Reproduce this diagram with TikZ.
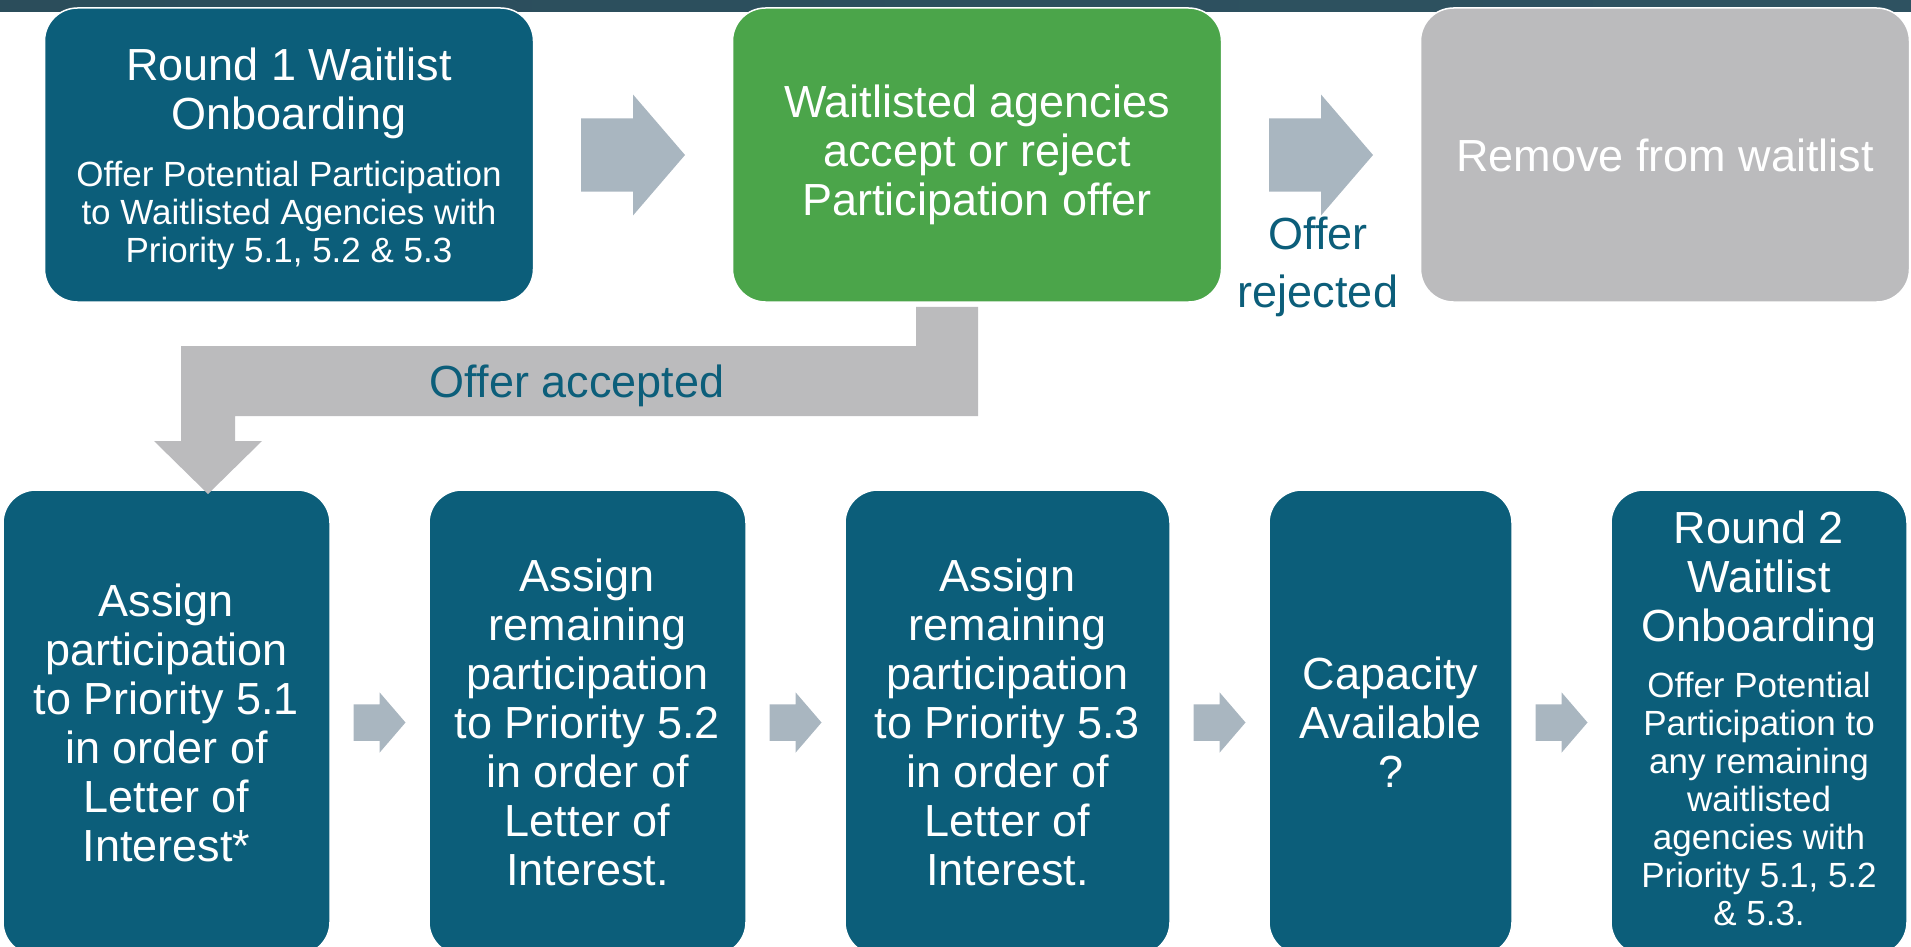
\documentclass[tikz,border=0pt]{standalone}
\usepackage{fontspec}
\setmainfont{Liberation Sans}
\usetikzlibrary{positioning,calc}
\definecolor{boxteal}{HTML}{0C5E7A}
\definecolor{boxgreen}{HTML}{4BA54A}
\definecolor{boxgray}{HTML}{BBBBBD}
\definecolor{arrowblue}{HTML}{A9B6C0}
\definecolor{banddark}{HTML}{2B4D5B}
\definecolor{bandlight}{HTML}{3A6878}
\newcommand{\bigsize}{\fontsize{45}{49}\selectfont}
\newcommand{\smallsize}{\fontsize{35}{38}\selectfont}
\tikzset{
        stepbox/.style = {rounded corners=33pt, draw=white, line width=1.5pt,
            text=white, align=center, inner sep=0pt, font=\bigsize},
        topbox/.style = {stepbox, minimum width=489pt, minimum height=294pt},
        lowbox/.style = {stepbox, fill=boxteal, minimum height=465pt},
        boxtitle/.style = {text=white, align=center, inner sep=0pt, anchor=north, font=\bigsize},
        boxsub/.style = {text=white, align=center, inner sep=0pt, anchor=north, font=\smallsize},
        caption/.style = {text=boxteal, align=center, inner sep=0pt, font=\bigsize},
        pics/fatarrow/.style = {code={
            \fill[arrowblue] (-52,-36.5) -- (0,-36.5) -- (0,-60.5) -- (52,0)
                -- (0,60.5) -- (0,36.5) -- (-52,36.5) -- cycle;}}
    }

\begin{document}
\begin{tikzpicture}[x=1pt,y=-1pt]
    \useasboundingbox (0,0) rectangle (1911,947);
    \clip (0,0) rectangle (1911,947);
    \shade[left color=banddark, middle color=bandlight, right color=banddark!80!bandlight]
        (0,0) rectangle (1911,12);
    % TOP ROW
    \node [topbox, fill=boxteal] (round1) at (289,155) {};
    \node [boxtitle] (round1title) at (289,48) {Round 1 Waitlist\\Onboarding};
    \node [boxsub] (round1sub) at (289,161)
        {Offer Potential Participation\\to Waitlisted Agencies with\\Priority 5.1, 5.2 \& 5.3};
    \node [topbox, fill=boxgreen, right=197.5pt of round1] (reply)
        {Waitlisted agencies\\accept or reject\\Participation offer};
    \node [topbox, fill=boxgray, right=197.5pt of reply] (remove) {Remove from waitlist};
    % BOTTOM ROW
    \node [lowbox, minimum width=327pt] (assign1) at (166.5,722.5)
        {Assign\\participation\\to Priority 5.1\\in order of\\Letter of\\Interest*};
    \node [lowbox, minimum width=317pt, right=97.5pt of assign1] (assign2)
        {Assign\\remaining\\participation\\to Priority 5.2\\in order of\\Letter of\\Interest.};
    \node [lowbox, minimum width=325pt, right=97.5pt of assign2] (assign3)
        {Assign\\remaining\\participation\\to Priority 5.3\\in order of\\Letter of\\Interest.};
    \node [lowbox, minimum width=243pt, right=97.5pt of assign3] (capacity)
        {Capacity\\Available\\?};
    \node [lowbox, minimum width=296pt, right=97.5pt of capacity] (round2) {};
    \node [boxtitle] (round2title) at ($(round2.north)+(0,21)$) {Round 2\\Waitlist\\Onboarding};
    \node [boxsub] (round2sub) at ($(round2.north)+(0,183)$)
        {Offer Potential\\Participation to\\any remaining\\waitlisted\\agencies with\\Priority 5.1, 5.2\\\& 5.3.};
    % ARROWS
    \pic at ($(round1.east)!.5!(reply.west)$) {fatarrow};
    \pic at ($(reply.east)!.5!(remove.west)$) {fatarrow};
    \foreach \a/\b in {assign1/assign2, assign2/assign3, assign3/capacity, capacity/round2}
        \pic [scale=.5] at ($(\a.east)!.5!(\b.west)$) {fatarrow};
    \node [caption, font=\fontsize{45}{58}\selectfont] (rejected) at (1318,267) {Offer\\rejected};
    \fill [boxgray] ($(reply.south)+(-61,4)$) -- ++(62,0) |- (235,416) -- (235,441)
        -- (262,441) -- (208,494) -- (154,441) -- (181,441) |- (916,346) -- cycle;
    \node [caption, anchor=base] (accepted) at (577,397) {Offer accepted};
\end{tikzpicture}
\end{document}
